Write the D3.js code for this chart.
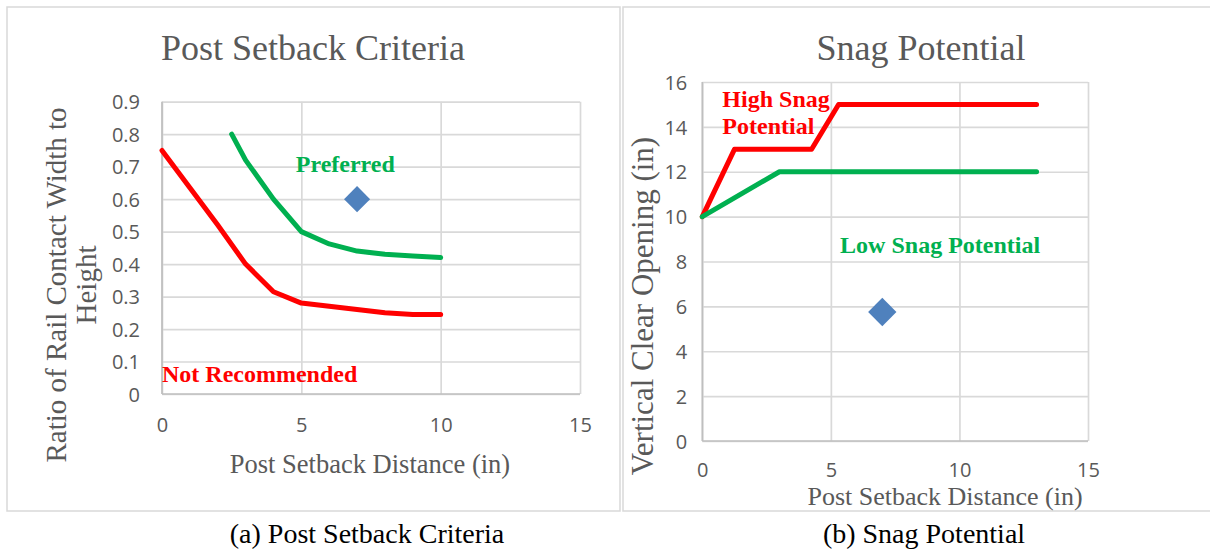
<!DOCTYPE html>
<html>
<head>
<meta charset="utf-8">
<script src="https://cdn.jsdelivr.net/npm/d3@7"></script>
<style>
  body { margin: 0; background: #fff; }
  svg { display: block; }
  .tick text { font-family: "Open Sans", sans-serif; font-size: 20px; fill: #595959; }
  .serif { font-family: "Liberation Serif", "Times New Roman", serif; }
</style>
</head>
<body>
<svg id="svg" width="1210" height="550"></svg>
<script>
// (a) Post Setback Criteria
var critX = [0, 1, 2, 3, 4, 5, 6, 7, 8, 9, 10];
var notRecY = [0.75, 0.635, 0.52, 0.40, 0.315, 0.28, 0.27, 0.26, 0.25, 0.245, 0.245];
var prefX = [2.5, 3, 4, 5, 6, 7, 8, 9, 10];
var prefY = [0.80, 0.72, 0.60, 0.50, 0.462, 0.44, 0.43, 0.425, 0.42];
var critPoint = [7, 0.6];
var critXTicks = [0, 5, 10, 15];
var critYTicks = [0, 0.1, 0.2, 0.3, 0.4, 0.5, 0.6, 0.7, 0.8, 0.9];
var critYLabels = ["0", "0.1", "0.2", "0.3", "0.4", "0.5", "0.6", "0.7", "0.8", "0.9"];

// (b) Snag Potential
var highX = [0, 1.25, 4.25, 5.3, 13];
var highY = [10, 13, 13, 15, 15];
var lowX = [0, 3, 13];
var lowY = [10, 12, 12];
var snagPoint = [7, 5.75];
var snagXTicks = [0, 5, 10, 15];
var snagYTicks = [0, 2, 4, 6, 8, 10, 12, 14, 16];

var svg = d3.select("#svg");
var gray = "#595959";

// panel frames
svg.append("rect").attr("x", 7).attr("y", 7).attr("width", 613).attr("height", 504)
  .attr("fill", "none").attr("stroke", "#d9d9d9").attr("stroke-width", 1.5);
svg.append("rect").attr("x", 623).attr("y", 7).attr("width", 600).attr("height", 504)
  .attr("fill", "none").attr("stroke", "#d9d9d9").attr("stroke-width", 1.5);

function panel(opt) {
  var x = d3.scaleLinear().domain(opt.xDomain).range([opt.left, opt.right]);
  var y = d3.scaleLinear().domain(opt.yDomain).range([opt.bottom, opt.top]);
  var h = opt.bottom - opt.top;
  var w = opt.right - opt.left;

  // x grid + labels
  var gx = svg.append("g")
    .attr("transform", "translate(0," + opt.bottom + ")")
    .call(d3.axisBottom(x).tickValues(opt.xTicks).tickSize(-h).tickPadding(opt.xPad).tickFormat(d3.format("d")));
  gx.select(".domain").remove();
  gx.selectAll("line").attr("stroke", "#d9d9d9").attr("stroke-width", 1.7);

  var gy = svg.append("g")
    .attr("transform", "translate(" + opt.left + ",0)")
    .call(d3.axisLeft(y).tickValues(opt.yTicks).tickSize(-w).tickPadding(opt.yPad)
      .tickFormat(function (d, i) { return opt.yLabels ? opt.yLabels[i] : d; }));
  gy.select(".domain").remove();
  gy.selectAll("line").attr("stroke", "#d9d9d9").attr("stroke-width", 1.7);
  gy.selectAll("text").attr("dy", "0.36em");

  // axis lines
  svg.append("line").attr("x1", opt.left).attr("x2", opt.right).attr("y1", opt.bottom).attr("y2", opt.bottom)
    .attr("stroke", "#bfbfbf").attr("stroke-width", 1.7);
  svg.append("line").attr("x1", opt.left).attr("x2", opt.left).attr("y1", opt.top).attr("y2", opt.bottom)
    .attr("stroke", "#bfbfbf").attr("stroke-width", 1.7);

  var line = d3.line().x(function (d) { return x(d[0]); }).y(function (d) { return y(d[1]); });
  opt.series.forEach(function (s) {
    svg.append("path")
      .datum(d3.zip(s.xs, s.ys))
      .attr("d", line)
      .attr("fill", "none")
      .attr("stroke", s.color)
      .attr("stroke-width", 5)
      .attr("stroke-linejoin", "round")
      .attr("stroke-linecap", "round");
  });

  svg.append("path")
    .attr("d", d3.symbol().type(d3.symbolSquare).size(opt.marker)())
    .attr("transform", "translate(" + x(opt.point[0]) + "," + y(opt.point[1]) + ") rotate(45)")
    .attr("fill", "#4f81bd");

  opt.notes.forEach(function (n) {
    svg.append("text")
      .attr("class", "serif")
      .attr("x", x(n.x)).attr("y", y(n.y))
      .attr("font-size", 24).attr("font-weight", "bold")
      .attr("fill", n.color)
      .text(n.text);
  });
  return { x: x, y: y };
}

panel({
  left: 162, right: 580, top: 101.7, bottom: 394,
  xDomain: [0, 15], yDomain: [0, 0.9],
  xTicks: critXTicks, yTicks: critYTicks, yLabels: critYLabels,
  xPad: 24, yPad: 22, marker: 340,
  series: [
    { xs: critX, ys: notRecY, color: "#ff0000" },
    { xs: prefX, ys: prefY, color: "#00b050" }
  ],
  point: critPoint,
  notes: [
    { text: "Preferred", x: 4.8, y: 0.684, color: "#00b050" },
    { text: "Not Recommended", x: 0, y: 0.037, color: "#ff0000" }
  ]
});

panel({
  left: 702.3, right: 1088, top: 82, bottom: 441,
  xDomain: [0, 15], yDomain: [0, 16],
  xTicks: snagXTicks, yTicks: snagYTicks,
  xPad: 22, yPad: 15, marker: 400,
  series: [
    { xs: highX, ys: highY, color: "#ff0000" },
    { xs: lowX, ys: lowY, color: "#00b050" }
  ],
  point: snagPoint,
  notes: [
    { text: "High Snag", x: 0.78, y: 14.9, color: "#ff0000" },
    { text: "Potential", x: 0.78, y: 13.68, color: "#ff0000" },
    { text: "Low Snag Potential", x: 5.36, y: 8.36, color: "#00b050" }
  ]
});

// titles
function label(txt, x, y, size, rot) {
  var t = svg.append("text")
    .attr("class", "serif")
    .attr("text-anchor", "middle")
    .attr("font-size", size)
    .attr("fill", gray)
    .text(txt);
  if (rot) t.attr("transform", "translate(" + x + "," + y + ") rotate(-90)");
  else t.attr("x", x).attr("y", y);
  return t;
}

label("Post Setback Criteria", 313, 60, 36);
label("Snag Potential", 921, 60, 36);
label("Post Setback Distance (in)", 370, 473, 26.5);
label("Post Setback Distance (in)", 945, 505, 26);
label("Ratio of Rail Contact Width to", 66, 285, 29, true);
label("Height", 96, 285, 29, true);
label("Vertical Clear Opening (in)", 653, 306, 31, true);

label("(a) Post Setback Criteria", 367, 543, 28).attr("fill", "#000");
label("(b) Snag Potential", 924, 543, 28).attr("fill", "#000");
</script>
</body>
</html>
